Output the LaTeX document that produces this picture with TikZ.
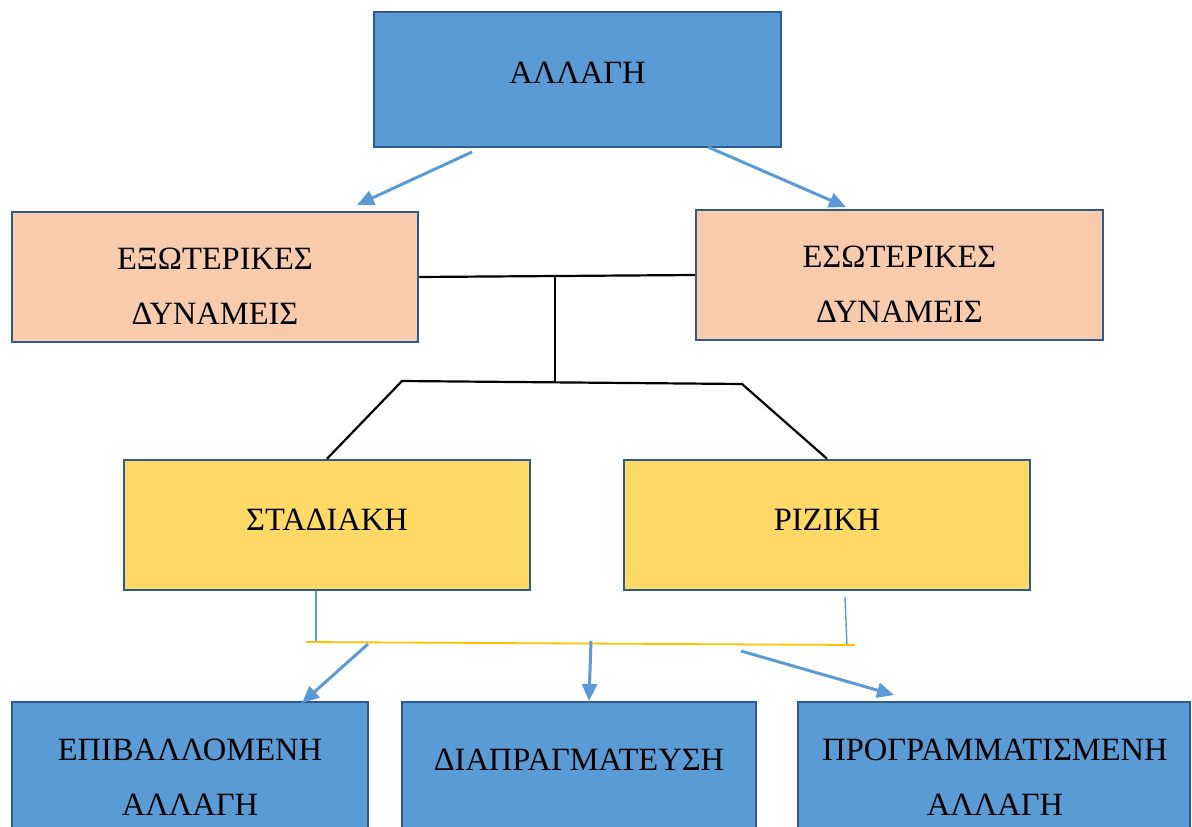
\documentclass[tikz,border=0pt]{standalone}
\usepackage{fontspec}
\setmainfont{Liberation Serif}
\usetikzlibrary{arrows.meta}
\definecolor{boxblue}{HTML}{5B9BD5}
\definecolor{boxedge}{HTML}{2F5B8C}
\definecolor{peach}{HTML}{F8CBAD}
\definecolor{gold}{HTML}{FFD966}
\definecolor{amber}{HTML}{FFC000}
\definecolor{arrowblue}{HTML}{5B9BD5}
\tikzset{
  box/.style={draw=boxedge, line width=2.5pt, rectangle, inner sep=0pt},
  lbl/.style={inner sep=0pt, align=center, font=\fontsize{32.5}{55.5}\selectfont},
  flow/.style={draw=arrowblue, line width=3pt, -{Triangle[length=17pt,width=15pt]}},
  link/.style={draw=black, line width=2.2pt},
  thin/.style={draw=arrowblue, line width=1.4pt},
}
\begin{document}
\begin{tikzpicture}[x=1pt, y=-1pt]
\useasboundingbox (0,0) rectangle (1192,827);
\clip (0,0) rectangle (1192,827);

% top level
\node[box, fill=boxblue, minimum width=407pt, minimum height=135pt] (top) at (577.5,79.5) {};
\node[lbl] (topt) at (577.5,73) {ΑΛΛΑΓΗ};

% forces
\node[box, fill=peach, minimum width=406pt, minimum height=130pt] (ext) at (215,277) {};
\node[box, fill=peach, minimum width=407pt, minimum height=130pt] (int) at (899.5,275) {};
\node[lbl] (extt) at (215,286) {ΕΞΩΤΕΡΙΚΕΣ\\ΔΥΝΑΜΕΙΣ};
\node[lbl] (intt) at (899.5,284) {ΕΣΩΤΕΡΙΚΕΣ\\ΔΥΝΑΜΕΙΣ};

% kinds of change
\node[box, fill=gold, minimum width=406pt, minimum height=130pt] (grad) at (327,525) {};
\node[box, fill=gold, minimum width=406pt, minimum height=130pt] (rad) at (827,525) {};
\node[lbl] (gradt) at (327,520) {ΣΤΑΔΙΑΚΗ};
\node[lbl] (radt) at (827,520) {ΡΙΖΙΚΗ};

% approaches (boxes run past the lower edge)
\node[box, fill=boxblue, minimum width=356pt, minimum height=160pt] (imp) at (190,782) {};
\node[box, fill=boxblue, minimum width=354pt, minimum height=160pt] (neg) at (579,782) {};
\node[box, fill=boxblue, minimum width=392pt, minimum height=160pt] (plan) at (994,782) {};
\node[lbl] (impt) at (190,777) {ΕΠΙΒΑΛΛΟΜΕΝΗ\\ΑΛΛΑΓΗ};
\node[lbl] (negt) at (579,760) {ΔΙΑΠΡΑΓΜΑΤΕΥΣΗ};
\node[lbl] (plant) at (995,777) {ΠΡΟΓΡΑΜΜΑΤΙΣΜΕΝΗ\\ΑΛΛΑΓΗ};

% arrows from the top box
\coordinate (s1) at (472,152);
\coordinate (e1) at (357,205);
\coordinate (s2) at (708,147);
\coordinate (e2) at (846,207);
\draw[flow] (s1) -- (e1);
\draw[flow] (s2) -- (e2);

% joining the two forces
\draw[link] (ext.east) -- (int.west);
\coordinate (j1) at (555,277);
\coordinate (j2) at (555,383);
\draw[link] (j1) -- (j2);
\coordinate (hl) at (402,381);
\coordinate (hr) at (742,384);
\draw[link] (grad.north) -- (hl) -- (hr) -- (rad.north);

% joining the two kinds of change
\coordinate (gl) at (316,591);
\coordinate (gb) at (316,642);
\coordinate (rl) at (845,597);
\coordinate (rb) at (847,646);
\coordinate (ya) at (306,642);
\coordinate (yb) at (855,645);
\draw[thin] (gl) -- (gb);
\draw[thin] (rl) -- (rb);
\draw[draw=amber, line width=1.8pt] (ya) -- (yb);

% arrows to the approaches
\coordinate (a1) at (368,644);
\coordinate (b1) at (302,703);
\coordinate (a2) at (591,641);
\coordinate (b2) at (589,701);
\coordinate (a3) at (741,651);
\coordinate (b3) at (894,695);
\draw[flow] (a1) -- (b1);
\draw[flow] (a2) -- (b2);
\draw[flow] (a3) -- (b3);
\end{tikzpicture}
\end{document}
